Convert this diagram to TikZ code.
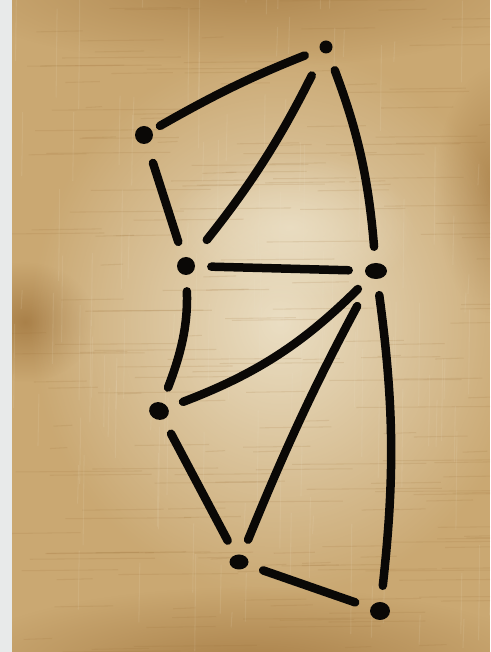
\documentclass[tikz,border=0pt]{standalone}
\usetikzlibrary{shapes.geometric,fadings}

\definecolor{paperbase}{RGB}{202,168,114}
\definecolor{paperlight}{RGB}{238,228,204}
\definecolor{paperdark}{RGB}{156,112,56}
\definecolor{margin}{RGB}{232,234,234}
\definecolor{ink}{RGB}{10,8,6}

\tikzfading[name=soft, inner color=transparent!0, outer color=transparent!100]

\begin{document}
\begin{tikzpicture}[
    dot/.style={ellipse, fill=ink, inner sep=0pt, minimum size=0.36cm},
    edge/.style={ink, line width=0.17cm, line cap=round, shorten >=0.32cm, shorten <=0.32cm}
]
    \useasboundingbox (0,0) rectangle (9.8,13.04);

    % Parchment
    \fill[margin] (0,0) rectangle (9.8,13.04);
    \begin{scope}
        \clip (0.24,0) rectangle (9.8,13.04);
        \fill[paperbase] (0.24,0) rectangle (9.8,13.04);
        \fill[paperdark, path fading=soft, opacity=0.7] (0.5,6.6) ellipse (1.4 and 1.2);
        \fill[paperdark, path fading=soft, opacity=0.6] (5,13.3) ellipse (6 and 1.6);
        \fill[paperdark, path fading=soft, opacity=0.7] (5,-0.3) ellipse (6 and 1.6);
        \fill[paperdark, path fading=soft, opacity=0.6] (9.9,9.2) ellipse (1.2 and 2.5);
        \fill[paperlight, path fading=soft, opacity=0.9] (5.6,6.6) ellipse (5 and 5.5);
        \fill[paperlight, path fading=soft, opacity=0.7] (5.8,8.5) ellipse (2.5 and 1.5);
        \pgfmathsetseed{7}
        \foreach \i in {1,...,200} {
            \pgfmathsetmacro\yy{rnd*13.04}
            \pgfmathsetmacro\xa{rnd*9.6}
            \pgfmathsetmacro\ll{0.3+rnd*2.5}
            \draw[paperdark, opacity=0.15, line width=0.6pt] (\xa,\yy) -- ++(\ll,0.02);
        }
        \foreach \i in {1,...,120} {
            \pgfmathsetmacro\xx{0.24+rnd*9.6}
            \pgfmathsetmacro\ya{rnd*13}
            \pgfmathsetmacro\ll{0.3+rnd*2}
            \draw[paperlight, opacity=0.12, line width=0.6pt] (\xx,\ya) -- ++(0.02,\ll);
        }
    \end{scope}

    % Dots
    \node[dot, minimum size=0.26cm] (top) at (6.52,12.10) {};
    \node[dot] (upleft) at (2.88,10.34) {};
    \node[dot] (midleft) at (3.72,7.72) {};
    \node[dot, minimum width=0.44cm, minimum height=0.32cm] (midright) at (7.52,7.62) {};
    \node[dot, minimum width=0.40cm, minimum height=0.35cm, rotate=-20] (lowleft) at (3.18,4.82) {};
    \node[dot, minimum width=0.38cm, minimum height=0.30cm] (bottom) at (4.78,1.80) {};
    \node[dot, minimum width=0.40cm, minimum height=0.36cm] (corner) at (7.60,0.82) {};

    % Strokes
    \draw[edge, shorten <=0.18cm] (upleft) to[bend left=4] (top);
    \draw[edge, shorten <=0.5cm, shorten >=0.48cm] (top) to[bend left=6] (midleft);
    \draw[edge, shorten <=0.36cm] (top) to[bend left=8] (midright);
    \draw[edge, shorten <=0.4cm] (upleft) -- (midleft);
    \draw[edge] (midleft) -- (midright);
    \draw[edge] (midright) to[bend left=12] (lowleft);
    \draw[edge, shorten <=0.62cm] (midright) to[bend right=3] (bottom);
    \draw[edge] (midright) to[bend left=7] (corner);
    \draw[edge] (midleft) to[out=-88,in=72] (lowleft);
    \draw[edge] (lowleft) -- (bottom);
    \draw[edge] (bottom) -- (corner);
\end{tikzpicture}
\end{document}
